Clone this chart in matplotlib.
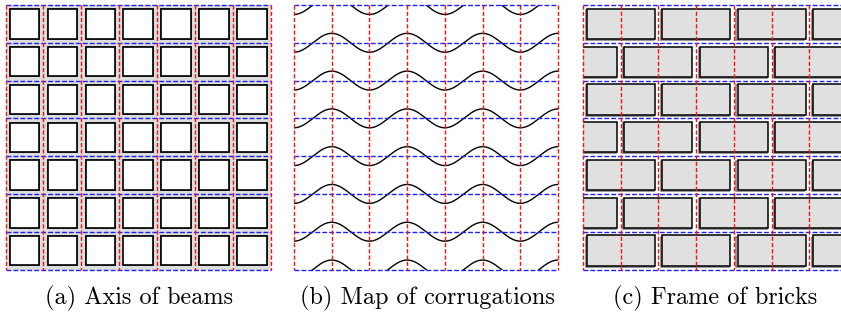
# three panels: beams, corrugations, bricks
import numpy as np
import matplotlib.pyplot as plt
from matplotlib.patches import Rectangle

# grid of 7x7 cells, lines at every cell border
grid = [0, 1, 2, 3, 4, 5, 6, 7]
# brick rows: every other row shifted by one cell (half a brick)
brick_shift = [0, 1, 0, 1, 0, 1, 0]
wave_amp = 0.25  # corrugation amplitude, in cells
captions = ["(a) Axis of beams", "(b) Map of corrugations", "(c) Frame of bricks"]

W, H = 841, 315
fig = plt.figure(figsize=(W / 100, H / 100), dpi=100)

red = "#ff1010"
blue = "#2020ff"


def panel(x0, x1):
    ax = fig.add_axes([x0 / W, (H - 269.5) / H, (x1 - x0) / W, 264.5 / H])
    ax.set_xlim(0, 7)
    ax.set_ylim(7, 0)
    ax.axis("off")
    return ax


def grid_lines(ax):
    for g in grid:
        ax.plot([0, 7], [g, g], color=blue, lw=1.0, ls=(0, (3.5, 1.5)),
                clip_on=False, zorder=5)
    for g in grid:
        ax.plot([g, g], [0, 7], color=red, lw=1.0, ls=(0, (3, 1.5)),
                clip_on=False, zorder=6)


# (a) beams
ax = panel(5.5, 271)
ax.add_patch(Rectangle((0, 0), 7, 7, fc="#dddddd", ec="none", zorder=0))
for i in grid[:-1]:
    for j in grid[:-1]:
        ax.add_patch(Rectangle((i + 0.085, j + 0.085), 0.83, 0.83,
                               fc="#6a6a6a", ec="none", zorder=1))
        ax.add_patch(Rectangle((i + 0.11, j + 0.11), 0.78, 0.78,
                               fc="white", ec="black", lw=1.2, zorder=2))
grid_lines(ax)

# (b) corrugations
ax = panel(294, 558)
xs = np.linspace(0, 7, 600)
for j in grid:
    ax.plot(xs, j + wave_amp * np.cos(np.pi * xs), color="black", lw=1.0, zorder=3)
grid_lines(ax)

# (c) bricks
ax = panel(583, 847)
for r, s in enumerate(brick_shift):
    for x0 in range(-s, 8, 2):
        ax.add_patch(Rectangle((x0 + 0.07, r + 0.13), 1.8, 0.8,
                               fc="none", ec="#777777", lw=1.1, zorder=1))
        ax.add_patch(Rectangle((x0 + 0.1, r + 0.1), 1.8, 0.8,
                               fc="#e0e0e0", ec="black", lw=1.1, zorder=2))
grid_lines(ax)

for cx, txt in zip([139, 427, 715], captions):
    fig.text(cx / W, (H - 298) / H, txt, ha="center", va="center",
             fontsize=17.5, family="cmr10")

fig.savefig("out.png", dpi=100)
